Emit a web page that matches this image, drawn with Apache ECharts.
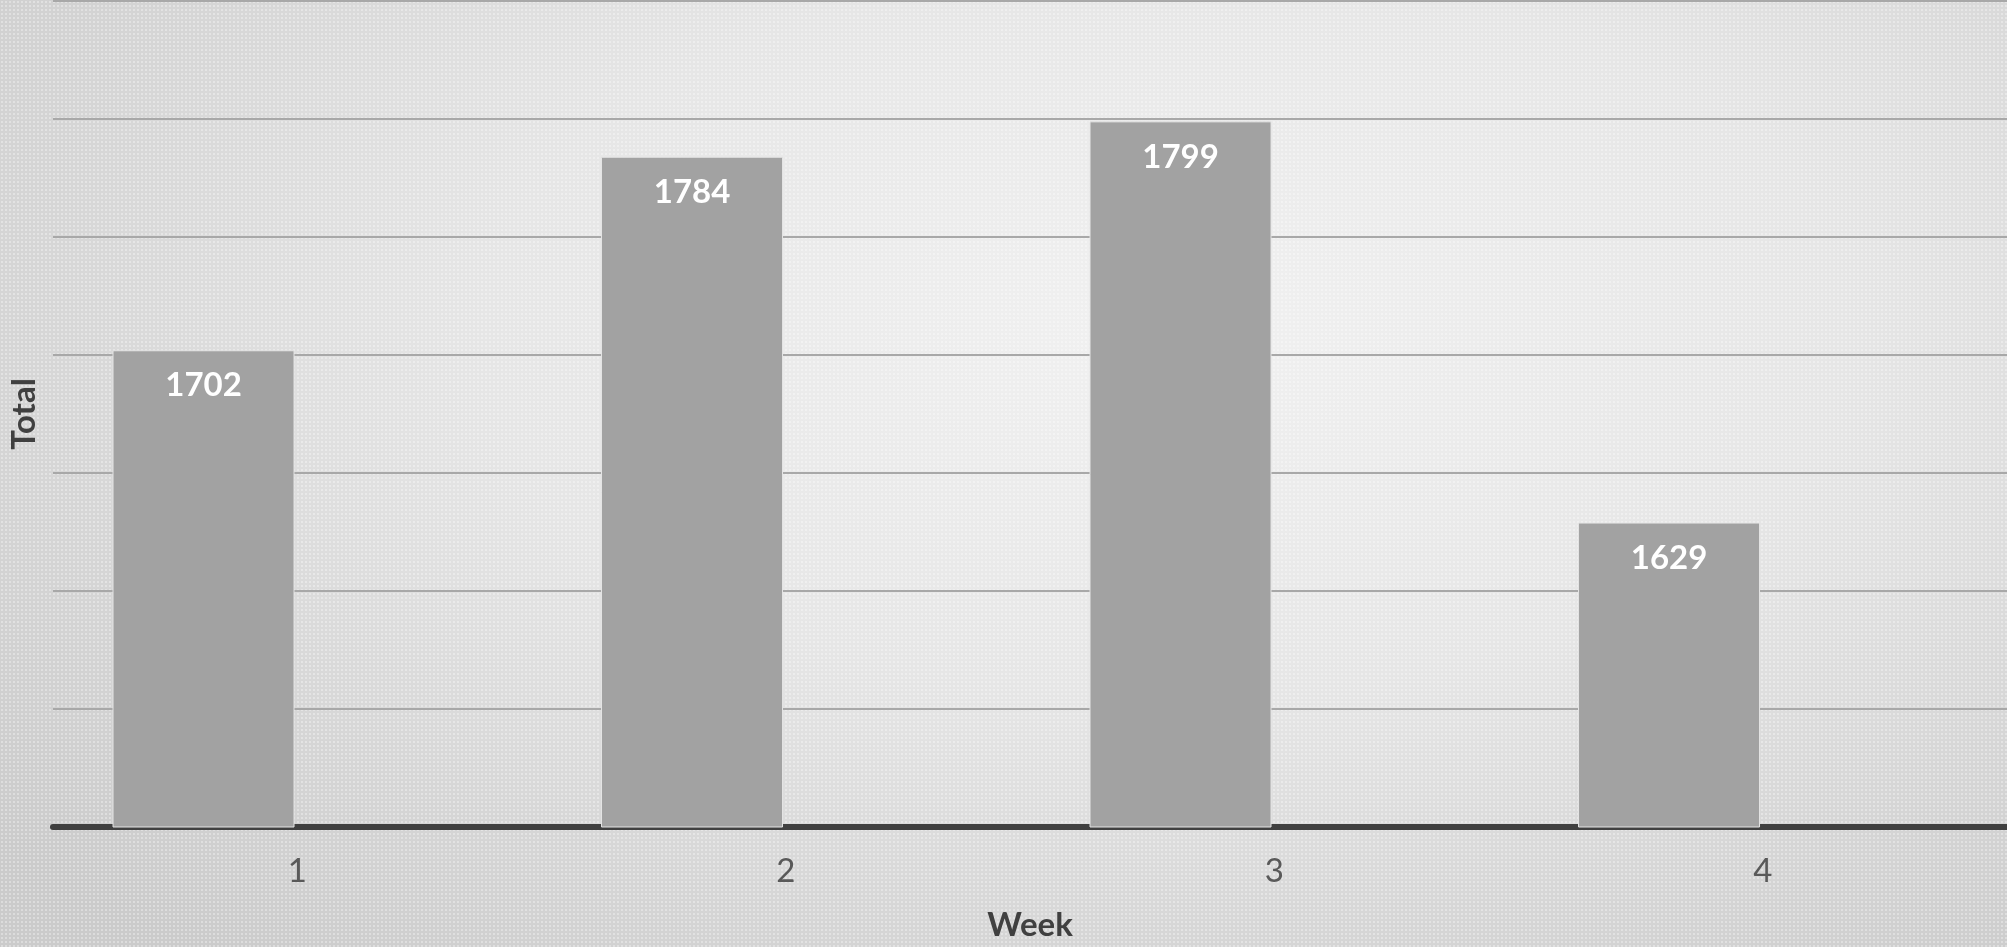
<!DOCTYPE html>
<html>
<head>
<meta charset="utf-8">
<script src="https://cdn.jsdelivr.net/npm/echarts@6/dist/echarts.min.js"></script>
<style>
html,body{margin:0;padding:0;width:2007px;height:947px;overflow:hidden;}
#bg{position:absolute;left:0;top:0;width:2007px;height:947px;
background:
 radial-gradient(ellipse 75% 85% at 58% 35%, #f1f1f1 0%, #e6e6e6 45%, #d6d6d6 75%, #cbcbcb 100%);}
#dots{position:absolute;left:0;top:0;width:2007px;height:947px;
background-image:radial-gradient(circle, rgba(255,255,255,0.55) 0.9px, rgba(255,255,255,0) 1.3px);
background-size:4px 4px;opacity:0.6;}
#chart{position:absolute;left:0;top:0;width:2007px;height:947px;}
</style>
</head>
<body>
<div id="bg"></div>
<div id="dots"></div>
<div id="chart"></div>
<script>
const weeks = ['1', '2', '3', '4'];
const totals = [1702, 1784, 1799, 1629];
const emptySeries = ['-', '-', '-', '-'];

const chart = echarts.init(document.getElementById('chart'), null, {renderer: 'canvas'});
chart.setOption({
  backgroundColor: 'transparent',
  animation: false,
  grid: {left: 51, right: -6, top: 1, bottom: 114, containLabel: false},
  xAxis: {
    type: 'category',
    data: weeks,
    boundaryGap: true,
    axisLine: {show: true, lineStyle: {color: '#404040', width: 6}},
    axisTick: {show: false},
    axisLabel: {fontFamily: 'Lato', fontSize: 33, color: '#595959', margin: 28},
    name: 'Week',
    nameLocation: 'middle',
    nameGap: 82,
    nameTextStyle: {fontFamily: 'Lato', fontSize: 33, fontWeight: 'bold', color: '#404040'}
  },
  yAxis: {
    type: 'value',
    min: 1500,
    max: 1850,
    interval: 50,
    axisLine: {show: false},
    axisTick: {show: false},
    axisLabel: {show: false},
    splitLine: {show: true, lineStyle: {color: '#a8a8a8', width: 2}},
    name: 'Total',
    nameLocation: 'middle',
    nameGap: 12,
    nameTextStyle: {fontFamily: 'Lato', fontSize: 33, fontWeight: 'bold', color: '#404040'}
  },
  series: [
    {
      type: 'bar',
      data: totals,
      barWidth: 182,
      barGap: '3%',
      itemStyle: {color: '#a2a2a2', borderColor: '#e4e4e4', borderWidth: 1},
      label: {
        show: true,
        position: 'insideTop',
        distance: 19,
        fontFamily: 'Lato',
        fontSize: 33,
        fontWeight: 'bold',
        color: '#ffffff'
      }
    },
    {
      type: 'bar',
      data: emptySeries,
      barWidth: 182,
      barGap: '3%',
      itemStyle: {color: 'transparent'}
    }
  ]
});
</script>
</body>
</html>
